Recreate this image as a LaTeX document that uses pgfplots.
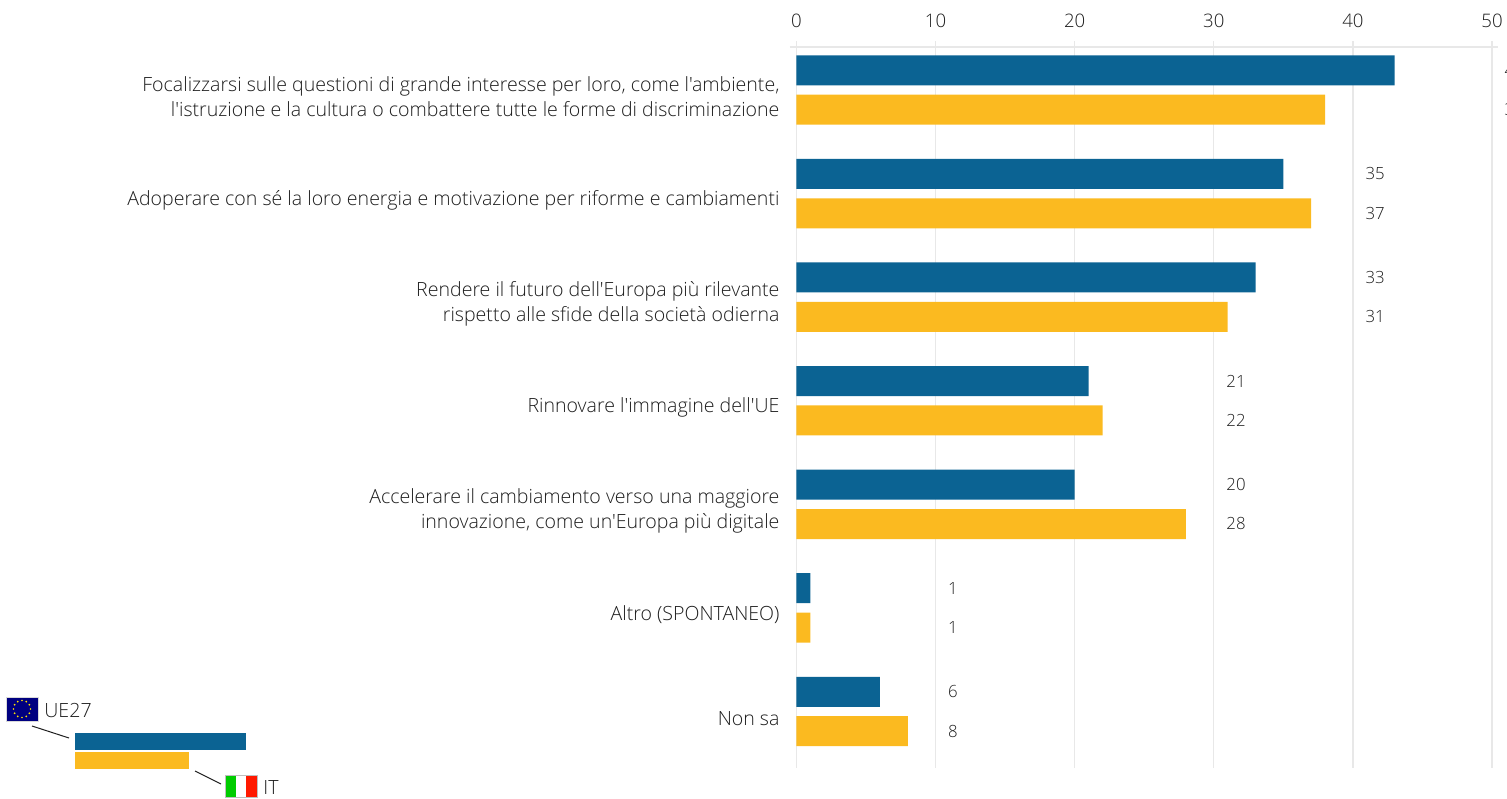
\documentclass[border=0pt]{standalone}
\usepackage{fontspec}
\defaultfontfeatures[\rmfamily]{}
\setmainfont{Open Sans Light}
\usepackage{pgfplots}
\pgfplotsset{compat=1.18}
\definecolor{barblue}{HTML}{0B6393}
\definecolor{baryellow}{HTML}{FBBA20}
\definecolor{gridc}{HTML}{E8E8E8}
\definecolor{txt}{HTML}{1E1E1E}
\begin{document}
\begin{tikzpicture}
\useasboundingbox (0,0) rectangle (753.5pt,399pt);
\begin{axis}[
  at={(394.75pt,375.5pt)}, anchor=north west,
  scale only axis, width=354.25pt, height=360.5pt,
  xmin=-0.5, xmax=50.43, ymin=-0.415, ymax=6.546,
  y dir=reverse,
  axis x line=top, axis y line=left,
  x axis line style={draw=gridc,line width=0.6pt,-},
  y axis line style={draw=none,-},
  xtick={0,10,20,30,40,50},
  xmajorgrids, grid style={draw=gridc,line width=0.6pt},
  tick align=outside, major tick length=3pt,
  x tick style={draw=gridc,line width=0.6pt},
  y tick style={draw=none},
  ytick={0,1,2,3,4,5,6},
  yticklabels={{Focalizzarsi sulle questioni di grande interesse per loro, come l'ambiente,\\l'istruzione e la cultura o combattere tutte le forme di discriminazione},
    {Adoperare con sé la loro energia e motivazione per riforme e cambiamenti},
    {Rendere il futuro dell'Europa più rilevante\\rispetto alle sfide della società odierna},
    {Rinnovare l'immagine dell'UE},
    {Accelerare il cambiamento verso una maggiore\\innovazione, come un'Europa più digitale},
    {Altro (SPONTANEO)},
    {Non sa}},
  y tick label style={align=right,font=\fontsize{9.78}{12.3}\selectfont,text=txt,xshift=1.5pt,yshift=-3.4pt},
  x tick label style={font=\fontsize{9.3}{11}\selectfont,text=txt,yshift=3pt},
  /pgf/number format/assume math mode=true,
  clip=false,
]
\addplot[xbar, bar width=15pt, bar shift=9.85pt, fill=barblue, draw=none, forget plot]
  coordinates {(43,0) (35,1) (33,2) (21,3) (20,4) (1,5) (6,6)};
\addplot[xbar, bar width=15pt, bar shift=-9.85pt, fill=baryellow, draw=none, forget plot]
  coordinates {(38,0) (37,1) (31,2) (22,3) (28,4) (1,5) (8,6)};
\addplot[only marks, mark=none, point meta=explicit symbolic, forget plot,
  nodes near coords, nodes near coords align={center},
  every node near coord/.append style={font=\fontsize{8.4}{10}\selectfont,text=txt,anchor=center}]
  coordinates {(51.6,-0.19)[43] (41.6,0.81)[35] (41.6,1.81)[33] (31.6,2.81)[21] (31.6,3.81)[20] (11.25,4.81)[1] (11.25,5.81)[6]
  (51.6,0.19)[38] (41.6,1.19)[37] (41.6,2.19)[31] (31.6,3.19)[22] (31.6,4.19)[28] (11.25,5.19)[1] (11.25,6.19)[8]};
\end{axis}
\begin{scope}[x=0.5pt,y=-0.5pt,yshift=399pt]
  % legend sample
  \fill[barblue] (75,733) rectangle (246,750);
  \fill[baryellow] (75,752) rectangle (189,769);
  \draw[txt,line width=0.5pt] (32,726) -- (69,738);
  \draw[txt,line width=0.5pt] (195,771) -- (221,784);
  % EU flag
  \fill[fill=blue!50!black,draw=black!15,line width=0.4pt] (6,697) rectangle (38,721);
  \foreach \a in {0,30,...,330} \fill[yellow!85!orange] ({22+8.5*cos(\a)},{709+8.5*sin(\a)}) circle (0.9);
  \node[anchor=west,inner sep=0pt,text=txt,font=\fontsize{9.8}{11}\selectfont] at (44,710.5) {UE27};
  % IT flag
  \fill[green!80!black] (225,775) rectangle (235.6,797);
  \fill[white] (235.6,775) rectangle (246.3,797);
  \fill[red!80!orange] (246.3,775) rectangle (257,797);
  \draw[black!25,line width=0.4pt] (225,775) rectangle (257,797);
  \node[anchor=west,inner sep=0pt,text=txt,font=\fontsize{9.8}{11}\selectfont] at (263,787) {IT};
\end{scope}
\end{tikzpicture}
\end{document}
